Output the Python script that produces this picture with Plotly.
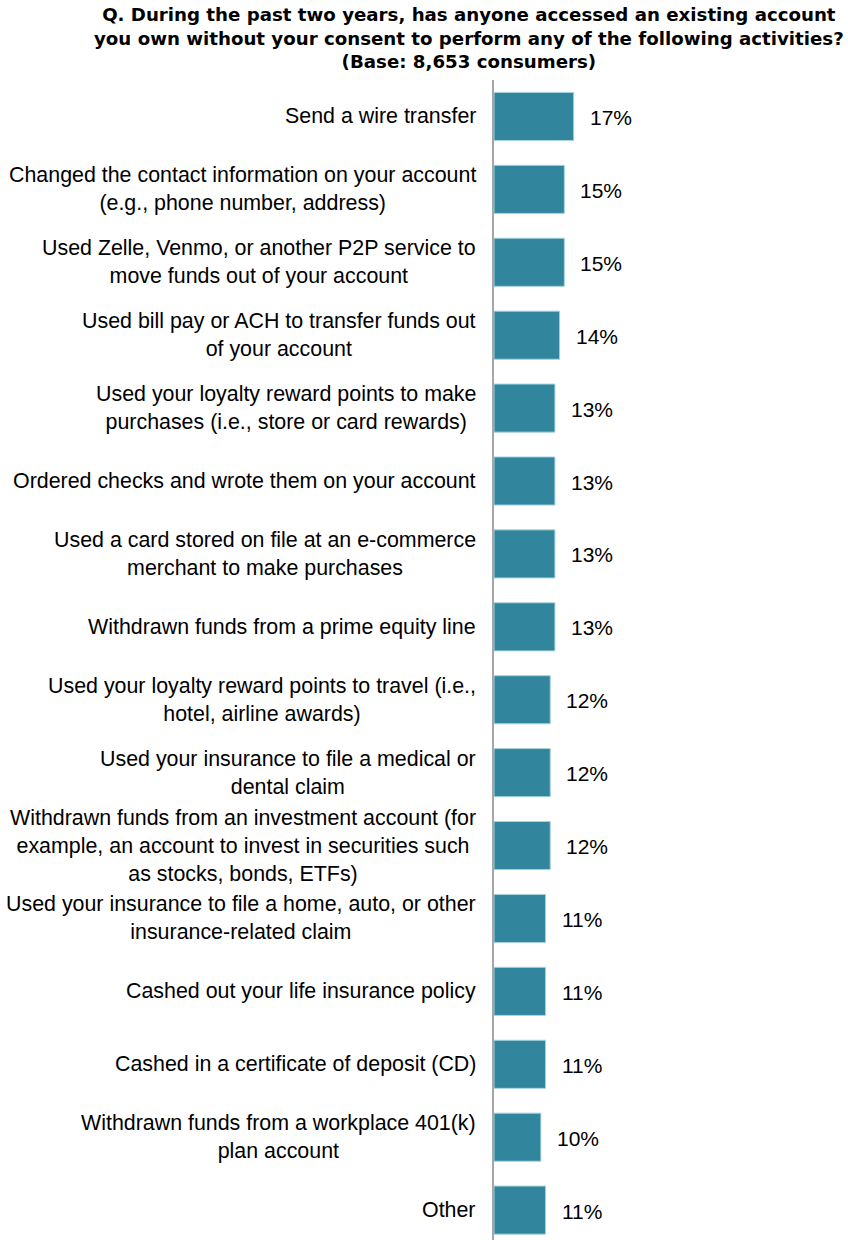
import plotly.graph_objects as go

categories = [
    "Send a wire transfer",
    "Changed the contact information on your account<br>(e.g., phone number, address)",
    "Used Zelle, Venmo, or another P2P service to<br>move funds out of your account",
    "Used bill pay or ACH to transfer funds out<br>of your account",
    "Used your loyalty reward points to make<br>purchases (i.e., store or card rewards)",
    "Ordered checks and wrote them on your account",
    "Used a card stored on file at an e-commerce<br>merchant to make purchases",
    "Withdrawn funds from a prime equity line",
    "Used your loyalty reward points to travel (i.e.,<br>hotel, airline awards)",
    "Used your insurance to file a medical or<br>dental claim",
    "Withdrawn funds from an investment account (for<br>example, an account to invest in securities such<br>as stocks, bonds, ETFs)",
    "Used your insurance to file a home, auto, or other<br>insurance-related claim",
    "Cashed out your life insurance policy",
    "Cashed in a certificate of deposit (CD)",
    "Withdrawn funds from a workplace 401(k)<br>plan account",
    "Other",
]
values = [17, 15, 15, 14, 13, 13, 13, 13, 12, 12, 12, 11, 11, 11, 10, 11]

title_lines = [
    "Q. During the past two years, has anyone accessed an existing account",
    "you own without your consent to perform any of the following activities?",
    "(Base: 8,653 consumers)",
]

FONT = "Liberation Sans, Arial, sans-serif"
TITLE_FONT = "DejaVu Sans, Liberation Sans, Arial, sans-serif"
W, H = 848, 1240
L, T = 494, 80
ids = list(range(len(categories)))


def px_x(px):
    return (px - L) / (W - L)


def px_y(py):
    return 1 + (T - py) / (H - T)


fig = go.Figure()
fig.add_trace(go.Bar(
    x=values, y=ids, orientation="h",
    marker=dict(color="#31859c", line=dict(color="#a9d4e0", width=1)),
    width=0.66,
    hoverinfo="skip",
))

for i, (cat, v) in enumerate(zip(categories, values)):
    fig.add_annotation(
        x=0, y=i, xref="x", yref="y", text=cat, showarrow=False,
        xanchor="right", yanchor="middle", align="center", xshift=-16,
        font=dict(family=FONT, size=21.4, color="#000000"),
    )
    fig.add_annotation(
        x=v, y=i, xref="x", yref="y", text=f"{v}%", showarrow=False,
        xanchor="left", yanchor="middle", xshift=14, yshift=-1,
        font=dict(family=FONT, size=21, color="#000000"),
    )

# bold three-line heading above the bars
fig.add_annotation(
    x=px_x(469), y=px_y(2), xref="paper", yref="paper",
    xanchor="center", yanchor="top", align="center",
    text="<b>" + "<br>".join(title_lines) + "</b>",
    showarrow=False, font=dict(family=TITLE_FONT, size=18.2, color="#000000"),
)

fig.update_layout(
    width=W, height=H,
    margin=dict(l=L, r=0, t=T, b=0),
    paper_bgcolor="white", plot_bgcolor="white",
    showlegend=False,
    xaxis=dict(range=[0, 75.5], showgrid=False, zeroline=False,
               showticklabels=False, ticks=""),
    yaxis=dict(range=[15.41, -0.5], showgrid=False, zeroline=False,
               showticklabels=False, ticks="",
               showline=True, linecolor="#a6a6a6", linewidth=2),
)

fig.write_html("out.html")
